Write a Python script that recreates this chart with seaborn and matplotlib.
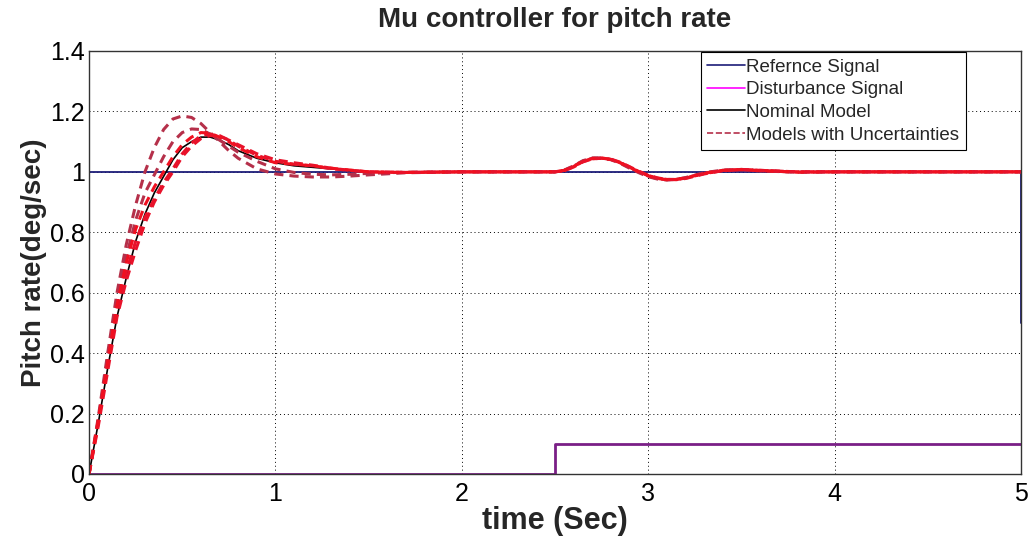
import numpy as np
import pandas as pd
import matplotlib
matplotlib.use("Agg")
import matplotlib.pyplot as plt
import seaborn as sns
from matplotlib.lines import Line2D

# time grid (sec) for the step responses
t_rise = [0.00, 0.05, 0.10, 0.15, 0.20, 0.25, 0.30, 0.35, 0.40, 0.45, 0.50, 0.55,
          0.60, 0.65, 0.70, 0.75, 0.80, 0.90, 1.00, 1.10, 1.20, 1.30, 1.40, 1.50,
          1.70, 2.00]
t_dist = [2.50, 2.55, 2.60, 2.65, 2.70, 2.75, 2.80, 2.85, 2.90, 2.95, 3.00, 3.05,
          3.10, 3.15, 3.20, 3.30, 3.40, 3.50, 3.60, 3.80, 4.00, 4.50, 5.00]

# reference and disturbance signals
ref_t = [0, 0, 5, 5]
ref_y = [0, 1, 1, 0.5]
dist_t = [0, 2.5, 2.5, 5]
dist_y = [0, 0, 0.1, 0.1]

# nominal model
nom_rise = [0, 0.17, 0.35, 0.52, 0.65, 0.77, 0.86, 0.93, 0.985, 1.04, 1.08, 1.10,
            1.115, 1.115, 1.105, 1.09, 1.07, 1.045, 1.03, 1.02, 1.015, 1.01, 1.005,
            1.0, 0.998, 1.0]
nom_dist = [1.0, 1.005, 1.018, 1.035, 1.044, 1.045, 1.040, 1.030, 1.015, 1.000,
            0.987, 0.978, 0.974, 0.975, 0.980, 0.995, 1.005, 1.007, 1.004, 0.999,
            1.0, 1.0, 1.0]

# models with uncertainties
unc1_rise = [0, 0.19, 0.40, 0.60, 0.76, 0.89, 1.00, 1.08, 1.14, 1.175, 1.185, 1.18,
             1.16, 1.13, 1.10, 1.07, 1.045, 1.01, 0.993, 0.986, 0.983, 0.983, 0.986,
             0.99, 0.997, 1.0]
unc1_dist = [1.0, 1.006, 1.020, 1.037, 1.046, 1.046, 1.040, 1.028, 1.012, 0.997,
             0.984, 0.976, 0.973, 0.975, 0.981, 0.997, 1.006, 1.007, 1.003, 0.999,
             1.0, 1.0, 1.0]
unc2_rise = [0, 0.18, 0.38, 0.57, 0.72, 0.84, 0.93, 0.99, 1.05, 1.10, 1.13, 1.142,
             1.14, 1.125, 1.105, 1.085, 1.065, 1.035, 1.01, 0.998, 0.992, 0.99, 0.992,
             0.995, 0.999, 1.0]
unc2_dist = [1.0, 1.005, 1.019, 1.036, 1.045, 1.046, 1.041, 1.030, 1.014, 0.999,
             0.986, 0.977, 0.974, 0.975, 0.980, 0.996, 1.005, 1.008, 1.004, 0.999,
             1.0, 1.0, 1.0]
unc3_rise = [0, 0.17, 0.36, 0.55, 0.67, 0.77, 0.85, 0.91, 0.965, 1.01, 1.06, 1.095,
             1.12, 1.125, 1.12, 1.105, 1.085, 1.055, 1.035, 1.025, 1.02, 1.01, 1.005,
             1.0, 0.998, 1.0]
unc3_dist = [1.0, 1.004, 1.017, 1.034, 1.043, 1.045, 1.041, 1.031, 1.016, 1.001,
             0.988, 0.979, 0.975, 0.975, 0.979, 0.994, 1.004, 1.008, 1.005, 1.000,
             1.0, 1.0, 1.0]
unc4_rise = [0, 0.16, 0.34, 0.52, 0.64, 0.74, 0.83, 0.90, 0.955, 1.0, 1.05, 1.085,
             1.11, 1.12, 1.118, 1.105, 1.09, 1.06, 1.04, 1.03, 1.022, 1.012, 1.005,
             1.0, 0.998, 1.0]
unc4_dist = [1.0, 1.004, 1.016, 1.033, 1.043, 1.045, 1.042, 1.032, 1.017, 1.002,
             0.989, 0.980, 0.975, 0.974, 0.978, 0.993, 1.004, 1.008, 1.005, 1.000,
             1.0, 1.0, 1.0]
unc5_rise = [0, 0.18, 0.37, 0.56, 0.70, 0.81, 0.89, 0.95, 1.0, 1.05, 1.09, 1.115,
             1.13, 1.128, 1.115, 1.10, 1.08, 1.05, 1.03, 1.025, 1.02, 1.012, 1.006,
             1.0, 0.998, 1.0]
unc5_dist = [1.0, 1.005, 1.018, 1.035, 1.044, 1.046, 1.041, 1.030, 1.015, 1.000,
             0.987, 0.978, 0.974, 0.975, 0.980, 0.995, 1.005, 1.007, 1.004, 0.999,
             1.0, 1.0, 1.0]

unc_curves = [(unc1_rise, unc1_dist, '#b5304a'),
              (unc2_rise, unc2_dist, '#b5304a'),
              (unc3_rise, unc3_dist, '#e8122a'),
              (unc4_rise, unc4_dist, '#e8122a'),
              (unc5_rise, unc5_dist, '#f01020')]

sns.set_style('white')
plt.rcParams['font.family'] = ['Liberation Sans', 'DejaVu Sans']

fig = plt.figure(figsize=(10.33, 5.39), dpi=100)
ax = fig.add_axes([0.0862, 0.1206, 0.9022, 0.7848])

t_all = t_rise + t_dist

sns.lineplot(x=ref_t, y=ref_y, sort=False, estimator=None, color='#1c1c78', lw=1.3, ax=ax)
sns.lineplot(x=dist_t, y=dist_y, sort=False, estimator=None, color='#7a1f86', lw=2.0, ax=ax)

# nominal first, the uncertain models are drawn over it
sns.lineplot(x=t_all, y=nom_rise + nom_dist, sort=False, estimator=None, color='black',
             lw=1.2, ax=ax)

for rise, dist, col in unc_curves:
    sns.lineplot(x=t_all, y=rise + dist, sort=False, estimator=None, color=col,
                 lw=2.2, ax=ax, linestyle=(0, (3, 2)))

ax.set_xlim(0, 5)
ax.set_ylim(0, 1.4)
ax.set_xticks([0, 1, 2, 3, 4, 5])
ax.set_xticklabels(['0', '1', '2', '3', '4', '5'])
ax.set_yticks([0, 0.2, 0.4, 0.6, 0.8, 1.0, 1.2, 1.4])
ax.set_yticklabels(['0', '0.2', '0.4', '0.6', '0.8', '1', '1.2', '1.4'])
ax.tick_params(direction='in', length=5, width=0.8, labelsize=18, colors='black')
ax.tick_params(axis='x', pad=6)
ax.tick_params(axis='y', pad=3)
ax.grid(True, linestyle=(0, (1, 3)), color='black', lw=0.7)
for s in ax.spines.values():
    s.set_color('#333333')
    s.set_linewidth(1.0)

ax.set_title('Mu controller for pitch rate', fontsize=20, fontweight='bold', pad=17)
ax.set_xlabel('time (Sec)', fontsize=22, fontweight='bold', labelpad=0)
ax.set_ylabel('Pitch rate(deg/sec)', fontsize=20, fontweight='bold', labelpad=2)

handles = [Line2D([], [], color='#1c1c78', lw=1.2),
           Line2D([], [], color='#ff00ff', lw=1.2),
           Line2D([], [], color='black', lw=1.2),
           Line2D([], [], color='#b5304a', lw=1.2, linestyle='--')]
labels = ['Refernce Signal', 'Disturbance Signal', 'Nominal Model',
          'Models with Uncertainties']
leg = ax.legend(handles, labels, loc='upper right', bbox_to_anchor=(0.941, 0.998),
                fontsize=13.5, frameon=True, fancybox=False, framealpha=1,
                handlelength=2.0, handletextpad=0.1, borderpad=0.35, labelspacing=0.3,
                borderaxespad=0)
leg.get_frame().set_edgecolor('black')
leg.get_frame().set_linewidth(0.8)

fig.savefig('out.png', dpi=100)
